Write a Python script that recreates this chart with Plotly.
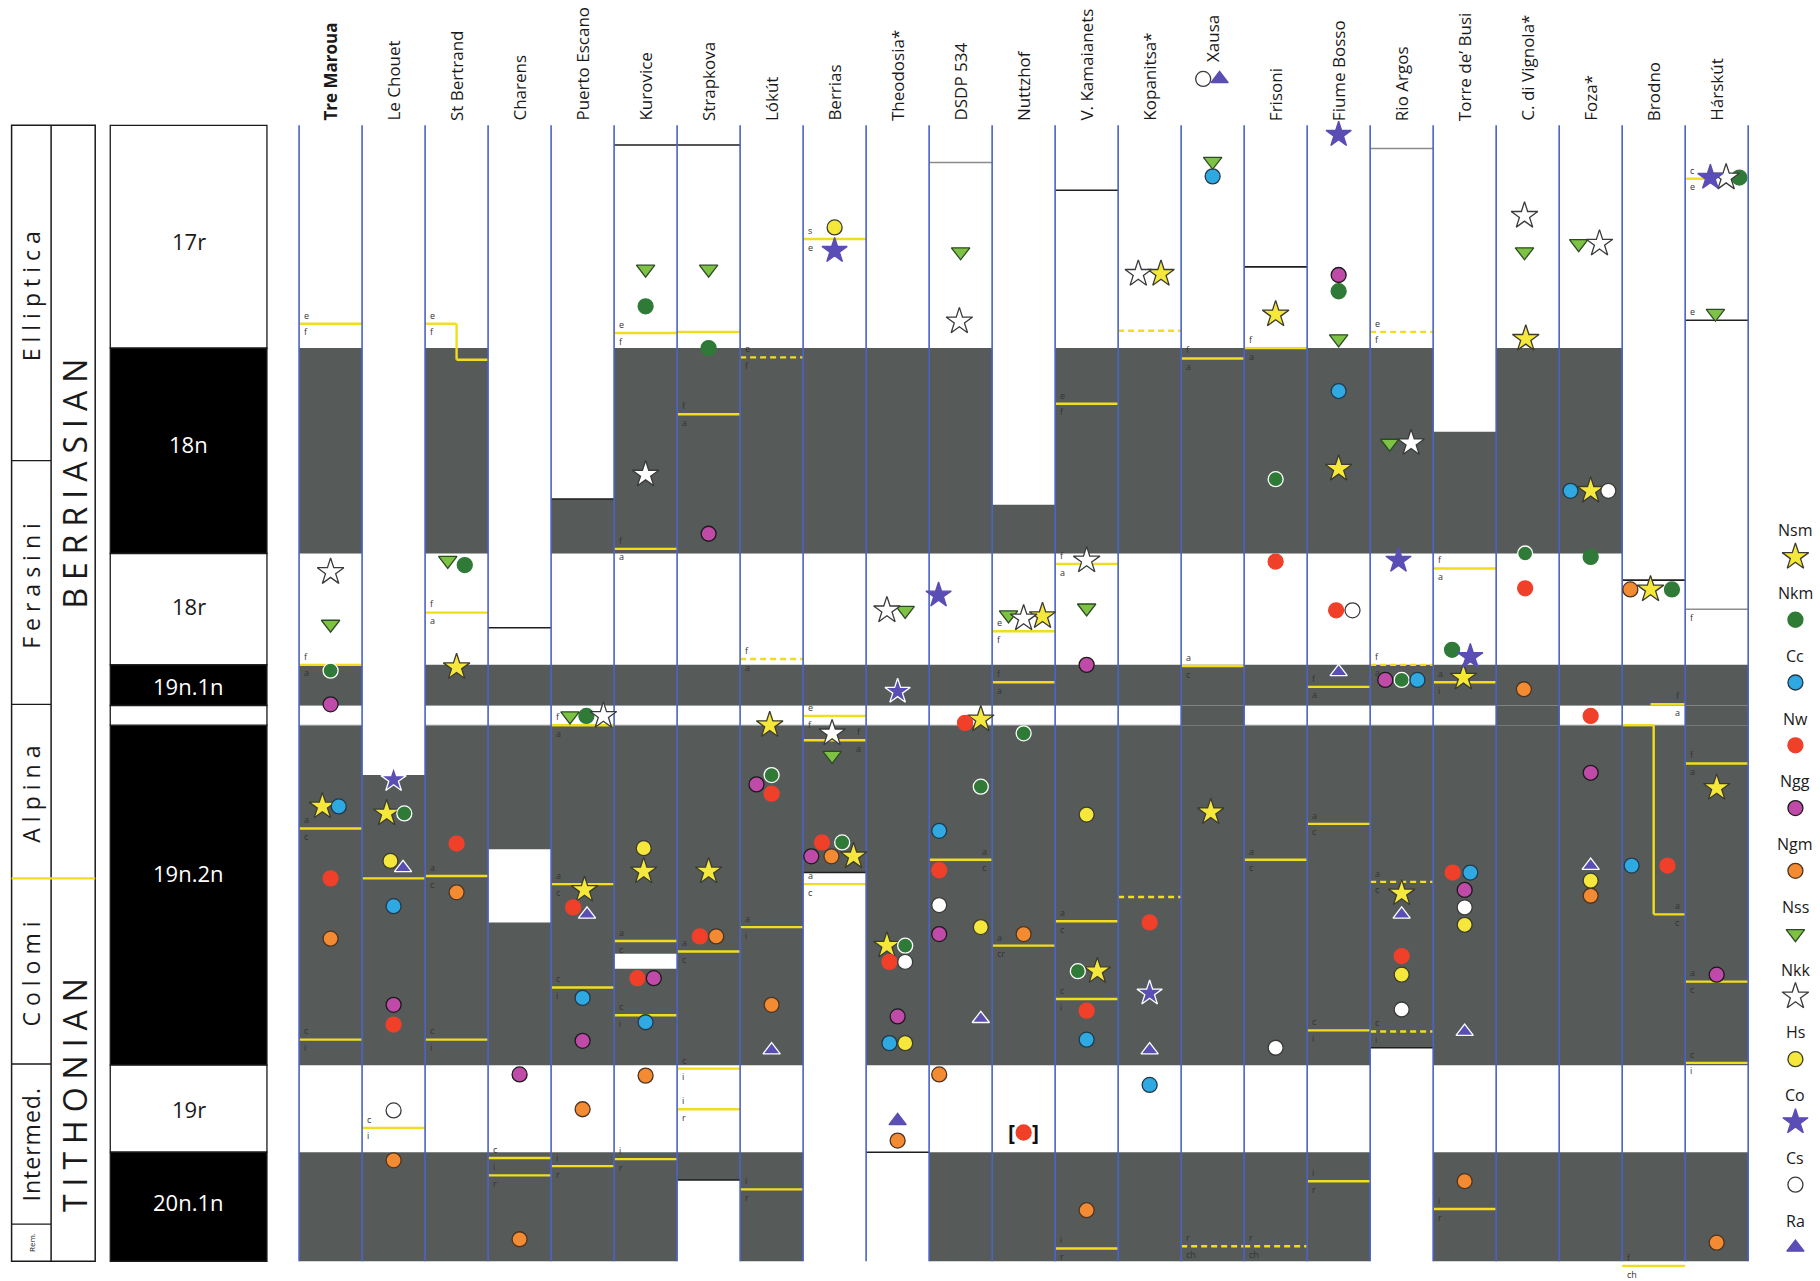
import plotly.graph_objects as go

# ---------------------------------------------------------------
# Sections (columns) and their preserved stratigraphic extent
# levels are depth units, increasing downwards (0 = top of page)
# ---------------------------------------------------------------
SECTIONS = ["Tre Maroua", "Le Chouet", "St Bertrand", "Charens", "Puerto Escano",
            "Kurovice", "Strapkova", "Lókút", "Berrias", "Theodosia*", "DSDP 534",
            "Nuttzhof", "V. Kamaianets", "Kopanitsa*", "Xausa", "Frisoni",
            "Fiume Bosso", "Rio Argos", "Torre de’ Busi", "C. di Vignola*", "Foza*",
            "Brodno", "Hárskút"]
BOLD_SECTIONS = ["Tre Maroua"]
SECTION_TOP = [108, 668, 108, 541, 430, 125, 125, 108, 108, 108, 140, 435, 164,
               108, 108, 230, 108, 128, 372, 108, 108, 500, 108]
SECTION_BASE = [1087, 1087, 1087, 1087, 1087, 1087, 1017, 1087, 752, 993, 1087,
                1087, 1087, 1087, 1087, 1087, 1087, 903, 1087, 1087, 1087, 1087, 1087]
CAPPED = ["Charens", "Puerto Escano", "Kurovice", "Strapkova", "Berrias", "Theodosia*",
          "DSDP 534", "V. Kamaianets", "Frisoni", "Rio Argos", "Brodno"]
GAP_FILLED = ["Xausa", "C. di Vignola*", "Hárskút"]
HIATUS_SECTION = ["Charens", "Kurovice", "Hárskút"]
HIATUS_TOP = [732, 822, 276]
HIATUS_BASE = [795, 835, 525]

# ---------------------------------------------------------------
# Magnetostratigraphy and calpionellid zonation
# ---------------------------------------------------------------
CHART_TOP, CHART_BASE = 108, 1087
CHRON_NAMES = ["17r", "18n", "18r", "19n.1n", "19n.2n", "19r", "20n.1n"]
CHRON_TOP = [108, 300, 477, 573, 625, 918, 993]
CHRON_BASE = [300, 477, 573, 608, 918, 993, 1087]
CHRON_NORMAL = [False, True, False, True, True, False, True]
CHRON_LABEL_AT = [208, 383, 522, 591, 752, 956, 1036]
GAP_TOP, GAP_BASE = 608, 625

ZONE_NAMES = ["Elliptica", "Ferasini", "Alpina", "Colomi", "Intermed.", "Rem."]
ZONE_TOP = [108, 397, 607, 757, 917, 1055]
ZONE_BASE = [397, 607, 757, 917, 1055, 1087]
ZONE_SPACING = [6, 6, 6, 6, 1, 0]
STAGE_NAMES = ["BERRIASIAN", "TITHONIAN"]
STAGE_LABEL_AT = [413, 940]
STAGE_BOUNDARY = 757

# ---------------------------------------------------------------
# Calpionellid subzone boundaries in each section
# (section, level left, level right, span from, span to, dashed, above, below, side)
# ---------------------------------------------------------------
BOUNDARIES = [
    (0, 279, 279, -.5, .5, False, "e", "f", "L"),
    (0, 573, 573, -.5, .5, False, "f", "a", "L"),
    (0, 714, 714, -.5, .5, False, "a", "c", "L"),
    (0, 896, 896, -.5, .5, False, "c", "i", "L"),
    (1, 757, 757, -.5, .5, False, "", "", "L"),
    (1, 972, 972, -.5, .5, False, "c", "i", "L"),
    (2, 279, 310, -.5, .5, False, "e", "f", "L"),
    (2, 528, 528, -.5, .5, False, "f", "a", "L"),
    (2, 755, 755, -.5, .5, False, "a", "c", "L"),
    (2, 896, 896, -.5, .5, False, "c", "i", "L"),
    (3, 998, 998, -.5, .5, False, "c", "i", "L"),
    (3, 1013, 1013, -.5, .5, False, "", "r", "L"),
    (4, 625, 625, -.5, .5, False, "f", "a", "L"),
    (4, 762, 762, -.5, .5, False, "a", "c", "L"),
    (4, 851, 851, -.5, .5, False, "c", "i", "L"),
    (4, 1005, 1005, -.5, .5, False, "i", "r", "L"),
    (5, 287, 287, -.5, .5, False, "e", "f", "L"),
    (5, 473, 473, -.5, .5, False, "f", "a", "L"),
    (5, 811, 811, -.5, .5, False, "a", "c", "L"),
    (5, 875, 875, -.5, .5, False, "c", "i", "L"),
    (5, 999, 999, -.5, .5, False, "i", "r", "L"),
    (6, 286, 286, -.5, .5, False, "", "", "L"),
    (6, 357, 357, -.5, .5, False, "f", "a", "L"),
    (6, 820, 820, -.5, .5, False, "a", "c", "L"),
    (6, 921, 921, -.5, .5, False, "c", "i", "L"),
    (6, 956, 956, -.5, .5, False, "i", "r", "L"),
    (7, 308, 308, -.5, .5, True, "e", "f", "L"),
    (7, 568, 568, -.5, .5, True, "f", "a", "L"),
    (7, 799, 799, -.5, .5, False, "a", "i", "L"),
    (7, 1025, 1025, -.5, .5, False, "i", "r", "L"),
    (8, 206, 206, -.5, .5, False, "s", "e", "L"),
    (8, 617, 617, -.5, .5, False, "e", "f", "L"),
    (8, 638, 638, -.5, .5, False, "f", "a", "R"),
    (8, 762, 762, -.5, .5, False, "a", "c", "L"),
    (10, 741, 741, -.5, .5, False, "a", "c", "R"),
    (11, 544, 544, -.5, .5, False, "e", "f", "L"),
    (11, 588, 588, -.5, .5, False, "f", "a", "L"),
    (11, 815, 815, -.5, .5, False, "a", "cr", "L"),
    (12, 348, 348, -.5, .5, False, "e", "f", "L"),
    (12, 486, 486, -.5, .5, False, "f", "a", "L"),
    (12, 794, 794, -.5, .5, False, "a", "c", "L"),
    (12, 861, 861, -.5, .5, False, "c", "i", "L"),
    (12, 1076, 1076, -.5, .5, False, "i", "r", "L"),
    (13, 285, 285, -.5, .5, True, "", "", "L"),
    (13, 773, 773, -.5, .5, True, "", "", "L"),
    (14, 309, 309, -.5, .5, False, "f", "a", "L"),
    (14, 574, 574, -.5, .5, False, "a", "c", "L"),
    (14, 1074, 1074, -.5, .5, True, "r", "ch", "L"),
    (15, 300, 300, -.5, .5, False, "f", "a", "L"),
    (15, 741, 741, -.5, .5, False, "a", "c", "L"),
    (15, 1074, 1074, -.5, .5, True, "r", "ch", "L"),
    (16, 592, 592, -.5, .5, False, "f", "a", "L"),
    (16, 710, 710, -.5, .5, False, "a", "c", "L"),
    (16, 888, 888, -.5, .5, False, "c", "i", "L"),
    (16, 1018, 1018, -.5, .5, False, "i", "r", "L"),
    (17, 286, 286, -.5, .5, True, "e", "f", "L"),
    (17, 573, 573, -.5, .5, True, "f", "a", "L"),
    (17, 760, 760, -.5, .5, True, "a", "c", "L"),
    (17, 889, 889, -.5, .5, True, "c", "i", "L"),
    (18, 490, 490, -.5, .5, False, "f", "a", "L"),
    (18, 588, 588, -.5, .5, False, "a", "i", "L"),
    (18, 1042, 1042, -.5, .5, False, "i", "r", "L"),
    (21, 607, 607, -.05, .5, False, "f", "a", "R"),
    (21, 625, 788, -.5, .5, False, "a", "c", "R"),
    (21, 1091, 1091, -.5, .5, False, "f", "ch", "L"),
    (22, 154, 154, -.5, -.17, False, "c", "e", "L"),
    (22, 658, 658, -.5, .5, False, "f", "a", "L"),
    (22, 846, 846, -.5, .5, False, "a", "c", "L"),
    (22, 916, 916, -.5, .5, False, "c", "i", "L"),
]
# letters written against the hiatus limits of Hárskút
HIATUS_LETTERS = [(22, 276, "e", "above"), (22, 525, "f", "below")]

# ---------------------------------------------------------------
# Bioevents: (section, level, lateral shift within column)
# ---------------------------------------------------------------
NSM = [(0, 695, -.13), (1, 701, -.11), (2, 575, 0), (4, 767, .03), (5, 751, -.03),
       (6, 751, 0), (7, 625, -.03), (8, 738, .3), (9, 815, -.17), (10, 620, .32),
       (11, 531, .3), (12, 837, .17), (13, 236, .18), (14, 700, -.03), (15, 271, 0),
       (16, 404, 0), (17, 770, 0), (18, 584, -.02), (19, 292, -.03), (20, 423, 0),
       (21, 508, -.05), (22, 679, 0)]
NKM = [(0, 578, 0), (1, 701, .17), (2, 487, .13), (4, 617, .06), (5, 264, 0), (6, 300, 0),
       (7, 668, 0), (8, 726, .12), (9, 815, .12), (10, 678, .32), (11, 632, 0),
       (12, 837, -.14), (15, 413, 0), (16, 251, 0), (17, 586, 0), (18, 560, -.2),
       (19, 477, -.04), (20, 480, 0), (21, 508, .29), (22, 153, .36)]
CC = [(0, 695, .13), (1, 781, 0), (4, 860, 0), (5, 881, 0), (9, 899, -.13), (10, 716, -.34),
      (12, 896, 0), (13, 935, 0), (14, 152, 0), (16, 337, 0), (17, 586, .25), (18, 752, .09),
      (20, 423, -.32), (21, 746, -.35)]
NW = [(0, 757, 0), (1, 883, 0), (2, 727, 0), (4, 782, -.15), (5, 843, -.13), (6, 807, -.14),
      (7, 684, 0), (8, 726, -.2), (9, 829, -.13), (10, 623, .07), (10, 750, -.34),
      (11, 976, 0), (12, 871, 0), (13, 795, 0), (15, 484, 0), (16, 526, -.04), (17, 824, 0),
      (18, 752, -.19), (19, 507, -.04), (20, 617, 0), (21, 746, .22)]
NGG = [(0, 607, 0), (1, 866, 0), (3, 926, 0), (4, 897, 0), (5, 843, .13), (6, 460, 0),
       (7, 676, -.24), (8, 738, -.37), (9, 876, 0), (10, 805, -.34), (12, 573, 0),
       (16, 237, 0), (17, 586, -.26), (18, 767, 0), (20, 666, 0), (22, 840, 0)]
NGM = [(0, 809, 0), (1, 1000, 0), (2, 769, 0), (3, 1068, 0), (4, 956, 0), (5, 927, 0),
       (6, 807, .12), (7, 866, 0), (8, 738, -.05), (9, 983, 0), (10, 926, -.34), (11, 805, 0),
       (12, 1043, 0), (18, 1018, 0), (19, 594, -.06), (20, 772, 0), (21, 508, -.37),
       (22, 1071, 0)]
NSS = [(0, 538, 0), (2, 483, -.14), (4, 617, -.2), (5, 232, 0), (6, 232, 0), (8, 651, -.04),
       (9, 526, .12), (10, 217, 0), (11, 530, -.24), (12, 524, 0), (14, 139, 0), (16, 292, 0),
       (17, 382, -.19), (19, 217, -.05), (20, 210, -.19), (22, 270, -.02)]
NKK = [(0, 493, 0), (4, 617, .33), (5, 409, 0), (8, 632, -.04), (9, 526, -.17),
       (10, 277, -.02), (11, 533, 0), (12, 483, 0), (13, 236, -.18), (17, 382, .15),
       (19, 186, -.05), (20, 210, .14), (22, 153, .15)]
HS = [(1, 742, -.05), (5, 731, -.03), (8, 196, 0), (9, 899, .12), (10, 799, .32), (12, 702, 0),
      (17, 840, 0), (18, 797, 0), (20, 759, 0)]
CO = [(1, 672, 0), (8, 216, 0), (9, 596, 0), (10, 513, -.35), (13, 856, 0), (16, 116, 0),
      (17, 483, -.05), (18, 566, .09), (22, 153, -.1)]
CS = [(1, 957, 0), (9, 829, .12), (10, 780, -.34), (15, 903, 0), (16, 526, .22), (17, 870, 0),
      (18, 782, 0), (20, 423, .28), (14, 68, -.15)]
RA = [(1, 748, .15), (4, 788, .07), (7, 905, 0), (9, 966, 0), (10, 878, .32), (13, 905, 0),
      (16, 579, 0), (17, 788, 0), (18, 889, 0), (20, 746, 0), (14, 68, .11)]
BRACKETED = [(11, 976)]

TAXA = ["Nsm", "Nkm", "Cc", "Nw", "Ngg", "Ngm", "Nss", "Nkk", "Hs", "Co", "Cs", "Ra"]
TAXON_EVENTS = dict(zip(TAXA, [NSM, NKM, CC, NW, NGG, NGM, NSS, NKK, HS, CO, CS, RA]))

# ---------------------------------------------------------------
# Styling
# ---------------------------------------------------------------
FONT = "Open Sans"
GREY = "#565b5a"
BLUE = "#4a62c8"
YELLOW = "#f2dc1e"
STYLE = {
    "Nsm": dict(symbol="star", color="#f6e83a", line="#3b3b30", size=20),
    "Nkm": dict(symbol="circle", color="#2f7a37", line="#2f7a37", size=15),
    "Cc": dict(symbol="circle", color="#2ea9e1", line="#23384a", size=15),
    "Nw": dict(symbol="circle", color="#f0402a", line="#f0402a", size=15),
    "Ngg": dict(symbol="circle", color="#c04aa8", line="#1b1b1b", size=15),
    "Ngm": dict(symbol="circle", color="#f38b33", line="#4d3320", size=15),
    "Nss": dict(symbol="triangle-down", color="#7dc242", line="#2d4a26", size=16),
    "Nkk": dict(symbol="star", color="#ffffff", line="#3a3a3a", size=20),
    "Hs": dict(symbol="circle", color="#f6e83a", line="#3b3b30", size=15),
    "Co": dict(symbol="star", color="#5a4db4", line="#5a4db4", size=19),
    "Cs": dict(symbol="circle", color="#ffffff", line="#3a3a3a", size=15),
    "Ra": dict(symbol="triangle-up", color="#5a4db4", line="#5a4db4", size=15),
}
HALO_TAXA = ["Nkm", "Co", "Ra"]   # outlined in white on the grey bands

# horizontal geometry of the left-hand panels (column units)
ZONE_X0, ZONE_X1, STAGE_X1 = -5.063, -4.436, -3.736
CHRON_X0, CHRON_X1 = -3.497, -1.010
LEGEND_X = 23.25

shapes, notes = [], []


def rect(x0, x1, y0, y1, fill, edge=None, width=0):
    shapes.append(dict(type="rect", xref="x", yref="y", x0=x0, x1=x1, y0=y0, y1=y1,
                       fillcolor=fill, layer="below",
                       line=dict(color=edge or fill, width=width)))


def seg(x0, y0, x1, y1, color, width, dash="solid"):
    shapes.append(dict(type="line", xref="x", yref="y", x0=x0, y0=y0, x1=x1, y1=y1,
                       layer="below", line=dict(color=color, width=width, dash=dash)))


def text(x, y, s, size, color="#1a1a1a", angle=0, xa="center", ya="middle", bold=False,
         spacing=0, pad=1):
    if bold:
        s = "<b>" + s + "</b>"
    if spacing:
        s = '<span style="letter-spacing:%dpx">%s</span>' % (spacing, s)
    notes.append(dict(x=x, y=y, xref="x", yref="y", text=s, showarrow=False,
                      textangle=angle, xanchor=xa, yanchor=ya, borderpad=pad,
                      font=dict(family=FONT, size=size, color=color)))


# ---------------- grey (normal polarity) bands in each section ------------
def grey_intervals(i):
    name = SECTIONS[i]
    ivs = [(t, b) for t, b, n in zip(CHRON_TOP, CHRON_BASE, CHRON_NORMAL) if n]
    if name in GAP_FILLED:
        ivs.append((GAP_TOP, GAP_BASE))
    out = []
    for t, b in ivs:
        t2, b2 = max(t, SECTION_TOP[i]), min(b, SECTION_BASE[i])
        if b2 > t2:
            out.append((t2, b2))
    return out


def in_grey(i, y):
    for s, t, b in zip(HIATUS_SECTION, HIATUS_TOP, HIATUS_BASE):
        if SECTIONS[i] == s and t <= y <= b:
            return False
    return any(t < y <= b for t, b in grey_intervals(i))


for i, name in enumerate(SECTIONS):
    for t, b in grey_intervals(i):
        rect(i - .5, i + .5, t, b, GREY)
    # thin pale rims where the 19n.1n / 19n.2n gap is left open
    if name not in GAP_FILLED and SECTION_TOP[i] < GAP_TOP and SECTION_BASE[i] > GAP_BASE:
        seg(i - .5, GAP_TOP, i + .5, GAP_TOP, "#9a9e9d", 1)
        seg(i - .5, GAP_BASE, i + .5, GAP_BASE, "#9a9e9d", 1)

for s, t, b in zip(HIATUS_SECTION, HIATUS_TOP, HIATUS_BASE):
    i = SECTIONS.index(s)
    rect(i - .5, i + .5, t, b, "#ffffff")
    if s == "Hárskút":
        seg(i - .5, t, i + .5, t, "#222222", 1.5)
        seg(i - .5, b, i + .5, b, "#8c8c8c", 1.5)

for i, name in enumerate(SECTIONS):
    if name in CAPPED:
        if SECTION_TOP[i] > CHART_TOP:
            col = "#8a8a8a" if name in ("DSDP 534", "Rio Argos") else "#1e1e1e"
            seg(i - .5, SECTION_TOP[i], i + .5, SECTION_TOP[i], col, 1.6)
        if SECTION_BASE[i] < CHART_BASE:
            seg(i - .5, SECTION_BASE[i], i + .5, SECTION_BASE[i], "#1e1e1e", 1.6)

# ---------------- subzone boundaries (yellow) -----------------------------
for (i, yl, yr, s0, s1, dashed, above, below, side) in BOUNDARIES:
    dash = "6px,4px" if dashed else "solid"
    if yl == yr:
        seg(i + s0, yl, i + s1, yl, YELLOW, 2.4, dash)
    else:
        seg(i + s0, yl, i, yl, YELLOW, 2.4, dash)
        seg(i, yl, i, yr, YELLOW, 2.4, dash)
        seg(i, yr, i + s1, yr, YELLOW, 2.4, dash)
    if side == "L":
        lx, xa, ly = i + s0 + .06, "left", yl
    else:
        lx, xa, ly = i + s1 - .06, "right", yr
    if above:
        text(lx, ly - 1, above, 9, "#333333", xa=xa, ya="bottom", pad=0)
    if below:
        text(lx, ly + .5, below, 9, "#333333", xa=xa, ya="top", pad=0)

for i, y, s, pos in HIATUS_LETTERS:
    text(i - .44, y + (-1 if pos == "above" else 1), s, 9, "#333333", xa="left",
         ya="bottom" if pos == "above" else "top", pad=0)

# ---------------- column separators ---------------------------------------
for k in range(len(SECTIONS) + 1):
    seg(k - .5, CHART_TOP, k - .5, CHART_BASE, BLUE, 1.6)

# ---------------- left panels: zones, stages, magnetozones ----------------
rect(ZONE_X0, STAGE_X1, CHART_TOP, CHART_BASE, "#ffffff", "#1a1a1a", 1.5)
seg(ZONE_X1, CHART_TOP, ZONE_X1, CHART_BASE, "#1a1a1a", 1.5)
for name, t, b, sp in zip(ZONE_NAMES, ZONE_TOP, ZONE_BASE, ZONE_SPACING):
    if t > CHART_TOP and t != STAGE_BOUNDARY:
        seg(ZONE_X0, t, ZONE_X1, t, "#1a1a1a", 1.3)
    size = 8 if name == "Rem." else 23
    text((ZONE_X0 + ZONE_X1) / 2, (t + b) / 2, name, size, angle=-90, spacing=sp)
seg(ZONE_X0, STAGE_BOUNDARY, STAGE_X1, STAGE_BOUNDARY, YELLOW, 2.2)
for name, y in zip(STAGE_NAMES, STAGE_LABEL_AT):
    text((ZONE_X1 + STAGE_X1) / 2 + .02, y, name, 32, angle=-90, spacing=8)

for name, t, b, n, ly in zip(CHRON_NAMES, CHRON_TOP, CHRON_BASE, CHRON_NORMAL, CHRON_LABEL_AT):
    rect(CHRON_X0, CHRON_X1, t, b, "#000000" if n else "#ffffff", "#1a1a1a", 1.3)
    text((CHRON_X0 + CHRON_X1) / 2, ly, name, 22, "#ffffff" if n else "#1a1a1a")
rect(CHRON_X0, CHRON_X1, GAP_TOP, GAP_BASE, "#ffffff", "#1a1a1a", 1.3)

# ---------------- section names -------------------------------------------
header_cols = {i for evs in TAXON_EVENTS.values() for i, y, _ in evs if y < CHART_TOP}
for i, name in enumerate(SECTIONS):
    base = 55 if i in header_cols else 106
    text(i, base, name, 17, angle=-90, ya="bottom", bold=name in BOLD_SECTIONS)

# ---------------- bioevent markers ----------------------------------------
fig = go.Figure()
for taxon in TAXA:
    st = STYLE[taxon]
    evs = TAXON_EVENTS[taxon]
    xs = [i + dx for i, y, dx in evs]
    ys = [y for i, y, dx in evs]
    edges = ["#ffffff" if (taxon in HALO_TAXA and in_grey(i, y)) else st["line"]
             for i, y, dx in evs]
    fig.add_trace(go.Scatter(
        x=xs, y=ys, mode="markers", name=taxon, showlegend=False, hoverinfo="name",
        marker=dict(symbol=st["symbol"], size=st["size"], color=st["color"],
                    line=dict(color=edges, width=1.3))))

for i, y in BRACKETED:
    text(i - .19, y, "[", 21, "#111111", bold=True)
    text(i + .19, y, "]", 21, "#111111", bold=True)

# ---------------- legend column -------------------------------------------
LEGEND_FIRST, LEGEND_STEP, LEGEND_GAP = 457, 54.1, 23
for k, taxon in enumerate(TAXA):
    st = STYLE[taxon]
    ly = LEGEND_FIRST + k * LEGEND_STEP
    text(LEGEND_X, ly, taxon, 16, "#1a1a1a")
    fig.add_trace(go.Scatter(
        x=[LEGEND_X], y=[ly + LEGEND_GAP], mode="markers", showlegend=False,
        hoverinfo="skip",
        marker=dict(symbol=st["symbol"], size=st["size"], color=st["color"],
                    line=dict(color=st["line"], width=1.3))))

fig.update_layout(
    width=1820, height=1281,
    margin=dict(l=0, r=0, t=0, b=0),
    paper_bgcolor="#ffffff", plot_bgcolor="#ffffff",
    xaxis=dict(range=[-5.247, 23.64], visible=False, fixedrange=True),
    yaxis=dict(range=[1104, 0], visible=False, fixedrange=True),
    shapes=shapes, annotations=notes,
    font=dict(family=FONT),
)
fig.write_html("out.html")
